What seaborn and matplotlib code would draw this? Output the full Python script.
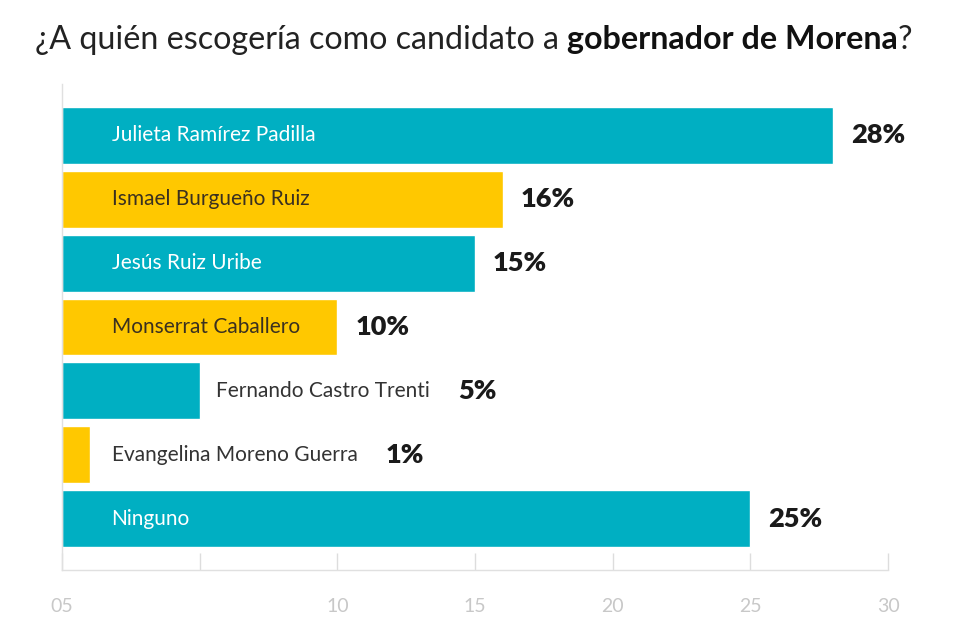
import matplotlib
matplotlib.use("Agg")
import matplotlib.pyplot as plt
import seaborn as sns

# Encuesta: candidatos de Morena a gobernador
candidates = [
    "Julieta Ramírez Padilla",
    "Ismael Burgueño Ruiz",
    "Jesús Ruiz Uribe",
    "Monserrat Caballero",
    "Fernando Castro Trenti",
    "Evangelina Moreno Guerra",
    "Ninguno",
]
percent = [28, 16, 15, 10, 5, 1, 25]
bar_colors = ["#00AFC2", "#FFC800", "#00AFC2", "#FFC800", "#00AFC2", "#FFC800", "#00AFC2"]
tick_values = [0, 5, 10, 15, 20, 25, 30]
tick_labels = ["05", "", "10", "15", "20", "25", "30"]

sns.set_style("white")
plt.rcParams["font.family"] = ["Lato", "DejaVu Sans"]

fig = plt.figure(figsize=(9.6, 6.33), dpi=100)
ax = fig.add_axes([62 / 960, 1 - 570 / 633, (888 - 62) / 960, (570 - 84) / 633])

sns.barplot(x=percent, y=candidates, hue=candidates, palette=bar_colors,
            legend=False, width=0.89, saturation=1, ax=ax)

ax.set_xlim(0, 30)
ax.set_ylim(6.8, -0.8)
ax.set_xlabel("")
ax.set_ylabel("")
ax.set_yticks([])
ax.set_xticks(tick_values)
ax.set_xticklabels(tick_labels, color="#c8c8c8", fontsize=14)
ax.tick_params(axis="x", bottom=True, direction="in", length=12, width=1,
               color="#dddddd", pad=20)
for side in ["top", "right"]:
    ax.spines[side].set_visible(False)
for side in ["left", "bottom"]:
    ax.spines[side].set_color("#e0e0e0")
    ax.spines[side].set_linewidth(1)

# etiquetas de nombres y porcentajes
for i, (name, val, col) in enumerate(zip(candidates, percent, bar_colors)):
    inside = val >= 10
    if inside:
        tcol = "white" if col == "#00AFC2" else "#3a3020"
        ax.text(1.8, i, name, va="center", ha="left", fontsize=15, color=tcol)
        ax.annotate(f"{val}%", xy=(val, i), xytext=(18, 0), textcoords="offset pixels",
                    va="center", ha="left", fontsize=19.5, fontweight="heavy", color="#1a1a1a")
    else:
        t = ax.text(max(val + 0.6, 1.8), i, name, va="center", ha="left",
                    fontsize=15, color="#333333")
        ax.annotate(f"{val}%", xy=(1, 0.5), xycoords=t, xytext=(28, 0),
                    textcoords="offset pixels", va="center", ha="left",
                    fontsize=19.5, fontweight="heavy", color="#1a1a1a")

# titulo con parte en negrita
tfont = ["Lato", "DejaVu Sans"]
tsize = 23.2
t1 = fig.text(35 / 960, 1 - 40 / 633, "¿A quién escogería como candidato a ",
              fontsize=tsize, family=tfont, color="#222222", va="center", ha="left")
t2 = ax.annotate("gobernador de Morena", xy=(1, 0.5), xycoords=t1, xytext=(0, 0),
                 textcoords="offset pixels", fontsize=tsize, family=tfont,
                 fontweight="bold", color="#111111", va="center", ha="left",
                 annotation_clip=False)
ax.annotate("?", xy=(1, 0.5), xycoords=t2, xytext=(0, 0), textcoords="offset pixels",
            fontsize=tsize, family=tfont, color="#222222", va="center", ha="left",
            annotation_clip=False)

fig.savefig("out.png", dpi=100)
